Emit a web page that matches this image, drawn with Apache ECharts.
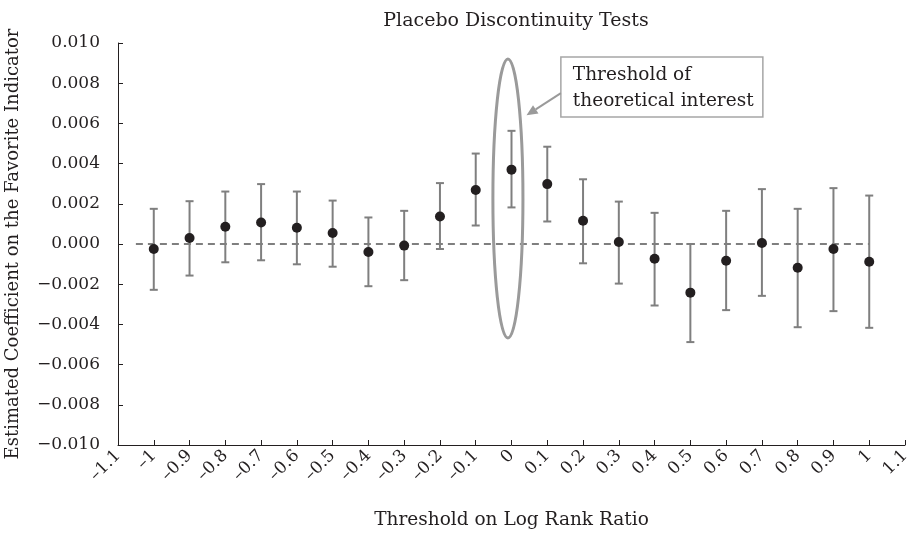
<!DOCTYPE html>
<html>
<head>
<meta charset="utf-8">
<title>Placebo Discontinuity Tests</title>
<script src="https://cdn.jsdelivr.net/npm/echarts@6/dist/echarts.min.js"></script>
<style>
  html, body { margin: 0; padding: 0; background: #fff; }
  #chart { width: 920px; height: 536px; }
</style>
</head>
<body>
<div id="chart"></div>
<script>
// thresholds on the log rank ratio (x)
const thresholds = [-1, -0.9, -0.8, -0.7, -0.6, -0.5, -0.4, -0.3, -0.2, -0.1, 0,
                    0.1, 0.2, 0.3, 0.4, 0.5, 0.6, 0.7, 0.8, 0.9, 1];
// point estimates
const coef = [-0.00025, 0.0003, 0.00086, 0.00107, 0.00081, 0.00055, -0.0004, -0.00008, 0.00137, 0.00269, 0.0037,
              0.00298, 0.00116, 0.0001, -0.00073, -0.00242, -0.00083, 0.00005, -0.00118, -0.00025, -0.00088];
// confidence interval ends
const upper = [0.00175, 0.00213, 0.00261, 0.00298, 0.00261, 0.00216, 0.00132, 0.00165, 0.00303, 0.0045, 0.00563,
               0.00484, 0.00322, 0.00211, 0.00155, 0.0, 0.00165, 0.00273, 0.00175, 0.00278, 0.00241];
const lower = [-0.00228, -0.00157, -0.00091, -0.00081, -0.00101, -0.00113, -0.0021, -0.0018, -0.00025, 0.00092, 0.00182,
               0.00112, -0.00096, -0.00197, -0.00306, -0.00488, -0.00329, -0.00258, -0.00414, -0.00334, -0.00417];
// dashed zero reference line (x range)
const zeroLine = [[-1.05, 0], [1, 0]];
// ellipse around threshold 0: [cx, cy, rx, ry] in data units
const highlight = [[-0.01, 0.00226, 0.042, 0.00694]];
// annotation: box top-left and arrow tip, data units
const noteBox = [0.138, 0.0093];
const noteTip = [0.042, 0.0064];
const noteText = 'Threshold of\ntheoretical interest';

const FONT = '"DejaVu Serif", "Liberation Serif", serif';
const INK = '#231f20';

const chart = echarts.init(document.getElementById('chart'));

const fmtX = v => {
    const r = Math.round(v * 10) / 10;
    return r < 0 ? '\u2013' + String(-r) : String(r);
};
const fmtY = v => {
    const r = Math.round(v * 1000) / 1000;
    const s = Math.abs(r).toFixed(3);
    return r < 0 ? '\u2212' + s : s;
};

const option = {
    animation: false,
    title: {
        text: 'Placebo Discontinuity Tests',
        left: 511,
        textAlign: 'center',
        top: 7,
        textStyle: { fontFamily: FONT, fontSize: 19, fontWeight: 'normal', color: INK }
    },
    grid: { left: 118, right: 15, top: 43, bottom: 91, containLabel: false, outerBoundsMode: 'none' },
    xAxis: {
        type: 'value',
        min: -1.1,
        max: 1.1,
        interval: 0.1,
        name: 'Threshold on Log Rank Ratio',
        nameLocation: 'middle',
        nameGap: 66,
        nameTextStyle: { fontFamily: FONT, fontSize: 18.5, color: INK },
        axisLine: { onZero: false, lineStyle: { color: INK, width: 1 } },
        axisTick: { inside: true, length: 5, lineStyle: { color: INK } },
        axisLabel: { rotate: 45, margin: 8, fontFamily: FONT, fontSize: 17, color: INK, formatter: fmtX },
        splitLine: { show: false }
    },
    yAxis: {
        type: 'value',
        min: -0.01,
        max: 0.01,
        interval: 0.002,
        name: 'Estimated Coefficient on the Favorite Indicator',
        nameLocation: 'middle',
        nameGap: 96,
        nameTextStyle: { fontFamily: FONT, fontSize: 18, color: INK },
        axisLine: { show: true, onZero: false, lineStyle: { color: INK, width: 1 } },
        axisTick: { show: true, inside: true, length: 5, lineStyle: { color: INK } },
        axisLabel: { margin: 18, fontFamily: FONT, fontSize: 17, color: INK, formatter: fmtY },
        splitLine: { show: false }
    },
    series: [
        {
            name: 'zero',
            type: 'line',
            data: zeroLine,
            symbol: 'none',
            silent: true,
            lineStyle: { color: '#555', width: 1.5, type: [7, 5] },
            z: 1
        },
        {
            name: 'ci',
            type: 'custom',
            data: thresholds.map((x, i) => [x, lower[i], upper[i]]),
            encode: { x: 0, y: [1, 2] },
            renderItem: function (params, api) {
                const lo = api.coord([api.value(0), api.value(1)]);
                const hi = api.coord([api.value(0), api.value(2)]);
                const cap = 4;
                const style = { stroke: '#7f7f7f', lineWidth: 2 };
                return {
                    type: 'group',
                    children: [
                        { type: 'line', shape: { x1: lo[0], y1: lo[1], x2: hi[0], y2: hi[1] }, style: style },
                        { type: 'line', shape: { x1: lo[0] - cap, y1: lo[1], x2: lo[0] + cap, y2: lo[1] }, style: style },
                        { type: 'line', shape: { x1: hi[0] - cap, y1: hi[1], x2: hi[0] + cap, y2: hi[1] }, style: style }
                    ]
                };
            },
            z: 2
        },
        {
            name: 'coef',
            type: 'scatter',
            data: thresholds.map((x, i) => [x, coef[i]]),
            symbol: 'circle',
            symbolSize: 10,
            itemStyle: { color: INK, opacity: 1 },
            z: 3
        },
        {
            name: 'highlight',
            type: 'custom',
            data: highlight,
            encode: { x: 0, y: 1 },
            renderItem: function (params, api) {
                const c = api.coord([api.value(0), api.value(1)]);
                const s = api.size([api.value(2), api.value(3)]);
                return {
                    type: 'ellipse',
                    shape: { cx: c[0], cy: c[1], rx: s[0], ry: s[1] },
                    style: { fill: 'none', stroke: '#9a9a9a', lineWidth: 3 }
                };
            },
            silent: true,
            z: 4
        },
        {
            name: 'note',
            type: 'custom',
            data: [noteBox.concat(noteTip)],
            encode: { x: 0, y: 1 },
            renderItem: function (params, api) {
                const p = api.coord([api.value(0), api.value(1)]);
                const tip = api.coord([api.value(2), api.value(3)]);
                const w = 202, h = 60;
                const tail = [p[0], p[1] + 36];
                const dx = tip[0] - tail[0], dy = tip[1] - tail[1];
                const len = Math.sqrt(dx * dx + dy * dy);
                const ux = dx / len, uy = dy / len;
                const hl = 11, hw = 5;
                const bx = tip[0] - ux * hl, by = tip[1] - uy * hl;
                return {
                    type: 'group',
                    children: [
                        { type: 'rect', shape: { x: p[0], y: p[1], width: w, height: h },
                          style: { fill: '#fff', stroke: '#a6a6a6', lineWidth: 1.5 } },
                        { type: 'text', x: p[0] + 12, y: p[1] + 5,
                          style: { text: noteText, fontFamily: FONT, fontSize: 18.5, lineHeight: 26, fill: INK } },
                        { type: 'line', shape: { x1: tail[0], y1: tail[1], x2: bx, y2: by },
                          style: { stroke: '#9a9a9a', lineWidth: 2 } },
                        { type: 'polygon', shape: { points: [tip, [bx - uy * hw, by + ux * hw], [bx + uy * hw, by - ux * hw]] },
                          style: { fill: '#9a9a9a' } }
                    ]
                };
            },
            silent: true,
            z: 5
        }
    ]
};

chart.setOption(option);
</script>
</body>
</html>
